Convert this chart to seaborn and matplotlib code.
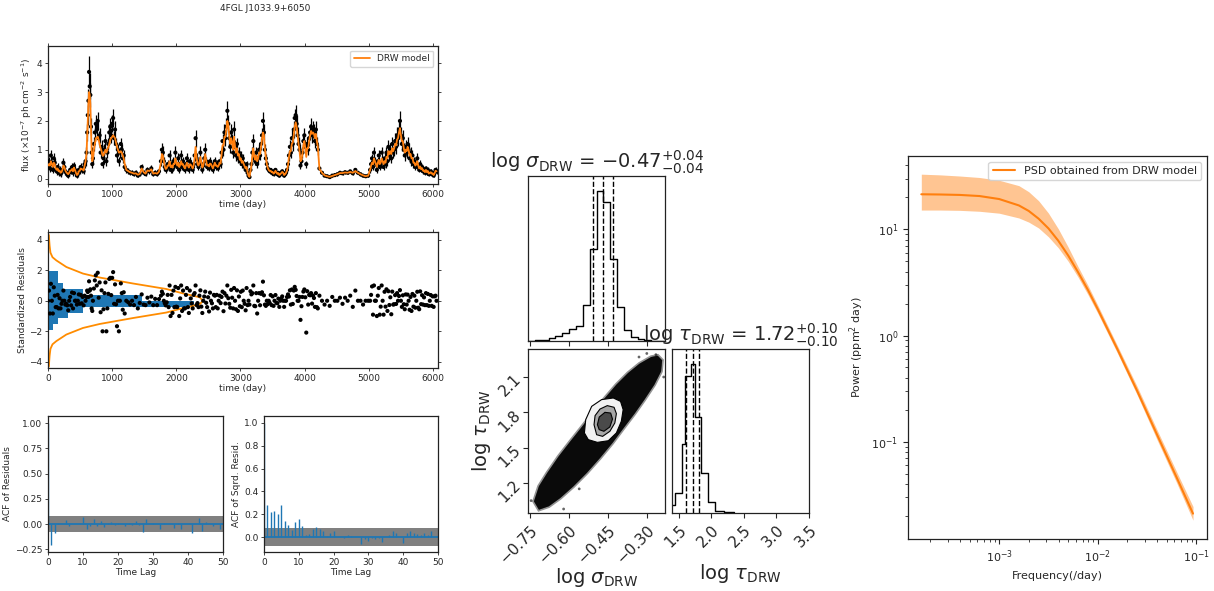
import numpy as np
import matplotlib
matplotlib.use("Agg")
import matplotlib.pyplot as plt
import seaborn as sns

sns.set_style("ticks")
plt.rcParams['font.family'] = ['DejaVu Sans']
plt.rcParams['mathtext.fontset'] = 'dejavusans'
plt.rcParams['axes.linewidth'] = 0.9
plt.rcParams['axes.edgecolor'] = '#222222'

# ---------------- light curve data ----------------
seg_sizes = [41, 10, 33, 18, 63, 30, 21, 19, 31, 20, 70]
lc_time = (list(range(0, 601, 15)) + list(range(610, 701, 10)) + list(range(715, 1196, 15))
           + list(range(1220, 1731, 30)) + list(range(1760, 2691, 15)) + list(range(2705, 3141, 15))
           + list(range(3155, 3456, 15)) + list(range(3470, 3741, 15)) + list(range(3755, 4206, 15))
           + list(range(4230, 4991, 40)) + list(range(5020, 6056, 15)))
lc_flux = [
    .45, .60, .35, .80, .50, .30, .70, .55, .30, .25, .40, .20, .30, .15, .20, .30, .55, .40, .25, .20,
    .15, .10, .20, .30, .25, .40, .20, .45, .30, .20, .10, .15, .30, .25, .40, .30, .35, .25, .50, .60, .90,
    1.6, 2.2, 2.7, 3.7, 3.2, 2.9, 1.8, 0.9, 0.5, 0.7,
    1.2, 1.6, 1.9, 1.7, 2.0, 1.4, 1.5, 0.9, 1.1, 0.5, 0.7, 1.0, 1.3, 0.6, 0.9, 1.2, 1.6, 1.8, 1.5, 1.9,
    2.1, 1.4, 1.7, 1.2, 0.8, 1.0, 0.6, 0.9, 1.2, 1.0, 0.7, 0.8, 0.4,
    .3, .25, .2, .2, .15, .2, .1, .15, .4, .2, .15, .3, .25, .35, .15, .2, .15, .25,
    .6, 1.0, .9, .6, .4, .3, .35, .5, .4, .8, .3, .5, .3, .6, .45, .9, .5, .4, .7, .3,
    .5, .8, .4, .6, .35, .3, .5, .7, .4, .3, .6, .5, .4, .3, .5, .8, 1.4, .7, .5, .4,
    .6, .9, .5, .3, .45, .7, 1.0, .6, .4, .5, .35, .6, .5, .4, .3, .5, .6, .4, .5, .35, .45, .6, .5,
    .9, 1.3, 1.0, 1.6, 1.4, 1.8, 2.35, 1.9, 1.4, 1.1, 1.6, 1.3, .9, 1.7, 1.1, .8, 1.2, .7, .9, .6,
    .8, .5, .7, .5, .4, .3, .5, .2, .1, .05,
    .3, .5, .9, 1.3, .7, .6, .9, .5, .7, 1.0, .8, 1.2, 1.5, 2.0, 1.6, 1.0, .7, .5, .35, .3, .25,
    .3, .2, .25, .15, .2, .3, .2, .15, .2, .1, .15, .2, .25, .2, .1, .15, .2, .3, .5,
    .8, 1.1, .9, 1.4, 1.2, 1.7, 2.1, 2.2, 1.9, 1.5, 1.2, 1.0, .45, .6, .9, 1.3, 1.5, 1.1, .5, 1.2,
    1.0, 1.4, 1.6, 1.8, 1.5, 1.7, 1.6, 1.3, 1.7, 1.2, 1.0,
    .35, .2, .1, .08, .05, .1, .12, .15, .2, .18, .22, .2, .25, .18, .3, .2, .15, .1, .08, .1,
    .3, .5, .7, .4, .9, .6, .5, .3, .6, .8, .4, .5, .9, .6, .4, .7, .5, .9, .6, 1.1,
    .8, 1.0, .7, 1.2, .9, 1.0, 1.3, 1.1, 1.5, 1.4, 1.7, 2.0, 1.5, 1.2, 1.4, 1.0, .8, 1.1, .9, 1.2,
    1.0, .7, .9, .6, .8, .5, .6, .4, .5, .7, .4, .3, .5, .3, .4, .25, .3, .2, .35, .2,
    .3, .15, .2, .25, .15, .2, .1, .2, .3, .25]
lc_err = [
    .15, .15, .12, .18, .15, .12, .17, .15, .12, .12, .13, .10, .12, .10, .10, .12, .15, .13, .12, .10,
    .10, .08, .10, .12, .10, .13, .10, .14, .12, .10, .08, .08, .12, .10, .13, .12, .12, .10, .15, .15, .20,
    .3, .35, .4, .55, .45, .4, .3, .2, .15, .18,
    .25, .3, .3, .3, .3, .25, .25, .2, .22, .15, .18, .2, .25, .15, .2, .22, .28, .3, .27, .3,
    .32, .25, .28, .22, .18, .2, .15, .18, .22, .2, .17, .18, .12,
    .1, .1, .08, .08, .07, .08, .06, .07, .12, .08, .07, .1, .09, .11, .07, .08, .07, .09,
    .15, .25, .22, .15, .12, .1, .1, .13, .12, .2, .1, .13, .1, .15, .12, .22, .13, .12, .18, .1,
    .13, .2, .12, .15, .1, .1, .13, .18, .12, .1, .15, .13, .12, .1, .13, .2, .3, .18, .13, .12,
    .15, .22, .13, .1, .12, .18, .25, .15, .12, .13, .1, .15, .13, .12, .1, .13, .15, .12, .13, .1,
    .12, .15, .13,
    .2, .25, .22, .3, .28, .3, .35, .3, .25, .22, .28, .25, .2, .3, .22, .18, .22, .15, .18, .14,
    .17, .12, .15, .12, .1, .08, .12, .07, .05, .04,
    .08, .12, .2, .25, .15, .14, .2, .12, .15, .2, .17, .22, .27, .32, .28, .2, .15, .12, .09, .08, .07,
    .08, .07, .07, .06, .07, .08, .07, .06, .07, .05, .06, .07, .07, .07, .05, .06, .07, .08, .12,
    .18, .22, .2, .27, .24, .3, .33, .35, .32, .28, .24, .2, .12, .14, .2, .25, .27, .22, .12, .24,
    .2, .26, .28, .3, .27, .3, .28, .25, .3, .24, .2,
    .06, .05, .04, .04, .03, .04, .04, .05, .05, .05, .05, .05, .06, .05, .06, .05, .05, .04, .04, .04,
    .1, .13, .16, .11, .2, .15, .13, .1, .15, .18, .11, .13, .2, .15, .11, .17, .13, .2, .15, .24,
    .18, .22, .17, .25, .2, .22, .27, .24, .3, .28, .32, .36, .3, .25, .28, .22, .18, .24, .2, .25,
    .22, .17, .2, .15, .18, .13, .15, .11, .13, .17, .11, .09, .13, .09, .11, .08, .09, .07, .1, .07,
    .09, .06, .07, .08, .06, .07, .05, .07, .09, .08]
drw_model = [
    .45, .50, .45, .60, .50, .40, .55, .50, .35, .30, .35, .25, .28, .20, .22, .30, .45, .40, .28, .22,
    .18, .15, .20, .27, .28, .33, .25, .38, .30, .20, .12, .15, .25, .27, .35, .32, .32, .28, .45, .60, .85,
    1.4, 2.0, 2.6, 3.0, 2.9, 2.6, 1.7, 1.0, 0.6, 0.7,
    1.0, 1.2, 1.4, 1.4, 1.45, 1.35, 1.2, 1.05, 0.95, 0.8, 0.8, 0.9, 1.0, 0.9, 1.0, 1.1, 1.2, 1.35, 1.4, 1.45,
    1.5, 1.45, 1.4, 1.25, 1.1, 1.0, 0.9, 0.9, 0.95, 0.9, 0.8, 0.7, 0.5,
    .3, .26, .22, .2, .17, .18, .13, .16, .35, .22, .17, .28, .26, .32, .17, .19, .17, .24,
    .55, .85, .8, .6, .42, .33, .36, .45, .45, .6, .4, .45, .38, .5, .5, .7, .55, .45, .55, .4,
    .48, .6, .48, .5, .4, .35, .45, .55, .45, .38, .5, .48, .42, .35, .45, .7, 1.1, .75, .52, .45,
    .55, .75, .55, .38, .45, .65, .85, .62, .45, .47, .42, .52, .5, .42, .35, .45, .55, .45, .45, .4,
    .45, .55, .52,
    .85, 1.15, 1.15, 1.45, 1.45, 1.7, 2.0, 1.85, 1.45, 1.2, 1.4, 1.25, 1.0, 1.45, 1.1, .9, 1.05, .8, .85, .65,
    .7, .55, .6, .5, .42, .35, .4, .22, .1, .06,
    .25, .45, .8, 1.05, .75, .65, .8, .6, .7, .9, .85, 1.1, 1.35, 1.6, 1.5, 1.05, .75, .5, .37, .3, .26,
    .27, .22, .23, .17, .2, .27, .21, .16, .19, .12, .15, .19, .23, .2, .12, .15, .2, .28, .45,
    .75, .95, .95, 1.2, 1.25, 1.5, 1.8, 1.95, 1.8, 1.5, 1.2, .95, .6, .65, .85, 1.15, 1.3, 1.05, .75, 1.05,
    1.05, 1.3, 1.5, 1.65, 1.55, 1.6, 1.55, 1.4, 1.55, 1.3, 1.1,
    .33, .2, .11, .08, .06, .09, .12, .15, .19, .19, .21, .2, .23, .2, .26, .2, .15, .11, .08, .1,
    .3, .45, .55, .5, .7, .6, .5, .4, .55, .65, .5, .55, .7, .6, .5, .6, .55, .75, .7, .95,
    .85, .95, .85, 1.05, .95, 1.05, 1.2, 1.15, 1.35, 1.4, 1.6, 1.75, 1.5, 1.3, 1.3, 1.05, .9, 1.0, .95, 1.1,
    1.0, .8, .85, .7, .72, .55, .55, .45, .5, .6, .45, .35, .42, .32, .36, .27, .28, .22, .3, .22,
    .26, .17, .2, .22, .17, .18, .12, .18, .27, .25]
drw_band_halfwidth = [.06, .15, .1, .07, .06, .08, .07, .05, .08, .06, .05]   # per segment

# ---------------- residual panel ----------------
resid_hist_edges = [-1.94, -1.55, -1.16, -0.77, -0.38, 0.01, 0.40, 0.79, 1.18, 1.57, 1.96]
resid_hist_widths = [80, 160, 310, 550, 2280, 1470, 550, 240, 160, 160]
gauss_curve_t = [14, 18, 25, 38, 70, 130, 286, 545, 805, 1325, 1844, 2104, 2364, 2415]
gauss_curve_y = [4.3, 4.0, 3.6, 3.15, 2.85, 2.64, 2.21, 1.78, 1.52, 1.13, 0.77, 0.48, 0.23, 0.0]

# ---------------- ACFs ----------------
acf_resid = [1.0, -0.21, -0.09, 0.01, 0.0, 0.04, -0.02, 0.0, 0.0, 0.01, 0.07, -0.05, -0.02, 0.05, -0.02,
             0.03, -0.03, 0.01, 0.02, -0.01, 0.01, 0.0, -0.02, 0.01, -0.01, 0.03, -0.01, -0.08, 0.05,
             0.0, 0.01, 0.0, -0.05, 0.01, 0.0, 0.0, -0.04, 0.01, -0.05, 0.0, 0.0, -0.09, 0.0, 0.06,
             -0.07, 0.02, 0.0, -0.02, 0.0, -0.05, 0.0]
acf_sqrd = [1.0, 0.28, 0.22, 0.23, 0.2, 0.28, 0.14, 0.11, 0.06, 0.13, 0.155, 0.10, 0.02, 0.03, 0.07,
            0.09, 0.07, 0.05, 0.01, 0.04, 0.05, 0.0, 0.0, -0.01, 0.02, 0.01, 0.0, 0.0, -0.06, -0.02,
            -0.03, -0.01, -0.02, -0.01, -0.04, 0.0, 0.02, 0.05, 0.04, 0.0, -0.05, 0.04, 0.05, 0.04,
            0.03, 0.02, 0.04, 0.02, 0.05, 0.0, 0.0]
acf_conf = 0.08

# ---------------- corner plot ----------------
sigma_edges = list(np.linspace(-0.757, -0.230, 21))
sigma_counts = [1, 2, 4, 8, 16, 24, 35, 45, 108, 278, 456, 421, 250, 103, 33, 13, 5, 2, 1, 0]
sigma_quant = [-0.508, -0.469, -0.431]
tau_edges = [1.395, 1.446, 1.549, 1.600, 1.692, 1.754, 1.846, 1.948, 2.05, 2.20, 2.35]
tau_counts = [25, 60, 208, 410, 448, 288, 120, 33, 6, 2]
tau_quant = [1.615, 1.713, 1.815]
blob_x = [-0.734, -0.715, -0.683, -0.639, -0.594, -0.550, -0.506, -0.461, -0.417, -0.372, -0.328,
          -0.283, -0.258, -0.241, -0.245, -0.271, -0.309, -0.347, -0.389, -0.432, -0.480, -0.531,
          -0.582, -0.633, -0.677, -0.715]
blob_y = [1.044, 1.172, 1.285, 1.426, 1.554, 1.676, 1.800, 1.922, 2.035, 2.134, 2.213,
          2.270, 2.281, 2.242, 2.148, 2.035, 1.908, 1.789, 1.667, 1.540, 1.412, 1.285,
          1.172, 1.072, 1.002, 0.973]
lev1_x = [-0.512, -0.474, -0.429, -0.401, -0.391, -0.398, -0.417, -0.448, -0.490, -0.525, -0.540, -0.535]
lev1_y = [1.851, 1.908, 1.922, 1.893, 1.823, 1.724, 1.625, 1.559, 1.545, 1.568, 1.625, 1.738]
lev2_x = [-0.503, -0.499, -0.480, -0.452, -0.426, -0.417, -0.423, -0.442, -0.470, -0.493]
lev2_y = [1.695, 1.772, 1.828, 1.857, 1.843, 1.789, 1.710, 1.639, 1.596, 1.610]
lev3_x = [-0.490, -0.483, -0.461, -0.439, -0.432, -0.442, -0.465, -0.483]
lev3_y = [1.695, 1.760, 1.800, 1.794, 1.743, 1.676, 1.639, 1.653]
outlier_x = [-0.620, -0.745, -0.705, -0.300, -0.265, -0.250, -0.690, -0.330, -0.235, -0.560]
outlier_y = [0.979, 1.050, 1.000, 2.300, 2.290, 2.200, 1.180, 2.270, 2.100, 1.150]

# ---------------- PSD ----------------
psd_logf = [-3.79, -3.6, -3.4, -3.2, -3.0, -2.8, -2.7, -2.6, -2.5, -2.4, -2.3, -2.2, -2.1, -2.0,
            -1.8, -1.6, -1.4, -1.2, -1.034]
psd_power = [21.4, 21.3, 21.1, 20.6, 19.3, 16.8, 14.9, 12.6, 10.2, 7.8, 5.67, 3.95, 2.69, 1.77,
             0.74, 0.30, 0.117, 0.046, 0.021]
psd_upper = [33.1, 32.6, 31.8, 30.8, 29.0, 25.8, 22.6, 18.6, 14.2, 10.1, 6.8, 4.45, 2.97, 1.93,
             0.80, 0.33, 0.130, 0.052, 0.0245]
psd_lower = [15.2, 15.2, 15.1, 14.8, 14.2, 12.8, 11.7, 10.3, 8.5, 6.7, 5.0, 3.55, 2.43, 1.62,
             0.68, 0.275, 0.105, 0.041, 0.0182]

assert len(lc_time) == len(lc_flux) == len(lc_err) == len(drw_model) == sum(seg_sizes)

t = np.array(lc_time, float)
f = np.array(lc_flux)
e = np.array(lc_err)
m = np.array(drw_model)
hw = np.repeat(drw_band_halfwidth, seg_sizes)
resid = (f - m) / e

ORANGE = '#ff7f0e'
BLUE = '#1f77b4'
W, H = 1214, 591
fig = plt.figure(figsize=(W / 100, H / 100), dpi=100)


def box(l, r, top, bot):
    return [l / W, 1 - bot / H, (r - l) / W, (bot - top) / H]


small = 6.5
fig.text(265 / W, 1 - 4 / H, '4FGL J1033.9+6050', ha='center', va='top', fontsize=6.5)

# ---- light curve ----
ax1 = fig.add_axes(box(48, 438, 46, 184))
ax1.fill_between(t, m - hw, m + hw, color=ORANGE, alpha=0.35, lw=0, zorder=1)
ax1.errorbar(t, f, yerr=e, fmt='none', ecolor='black', elinewidth=0.9, zorder=2)
sns.scatterplot(x=t, y=f, ax=ax1, color='black', s=9, edgecolor='none', zorder=3)
sns.lineplot(x=t, y=m, ax=ax1, color=ORANGE, lw=1.3, estimator=None, sort=False, zorder=4,
             label='DRW model')
ax1.set_xlim(0, 6078)
ax1.set_ylim(-0.19, 4.6)
ax1.set_yticks([0, 1, 2, 3, 4])
ax1.set_xlabel('time (day)', fontsize=small, labelpad=1)
ax1.set_ylabel(r'flux ($\times10^{-7}$ ph cm$^{-2}$ s$^{-1}$)', fontsize=small, labelpad=2)
ax1.tick_params(labelsize=small, top=True, right=True, length=2.5, width=0.6, pad=1.5)
ax1.legend(loc='upper right', fontsize=small, frameon=True, handlelength=1.8)

# ---- residuals ----
ax2 = fig.add_axes(box(48, 438, 232, 368))
centers = [(a + b) / 2 for a, b in zip(resid_hist_edges[:-1], resid_hist_edges[1:])]
sns.histplot(y=centers, weights=resid_hist_widths, bins=resid_hist_edges, ax=ax2,
             color=BLUE, alpha=1, linewidth=0, zorder=1)
sns.lineplot(x=gauss_curve_t, y=gauss_curve_y, ax=ax2, color='darkorange', lw=1.3,
             estimator=None, sort=False, zorder=2)
sns.lineplot(x=gauss_curve_t, y=[-v for v in gauss_curve_y], ax=ax2, color='darkorange', lw=1.3,
             estimator=None, sort=False, zorder=2)
sns.scatterplot(x=t, y=resid, ax=ax2, color='black', s=9, edgecolor='none', zorder=3)
ax2.set_xlim(0, 6078)
ax2.set_ylim(-4.4, 4.5)
ax2.set_yticks([-4, -2, 0, 2, 4])
ax2.set_xlabel('time (day)', fontsize=small, labelpad=1)
ax2.set_ylabel('Standardized Residuals', fontsize=small, labelpad=2)
ax2.tick_params(labelsize=small, top=True, right=True, length=2.5, width=0.6, pad=1.5)

# ---- ACFs ----
lags = np.arange(len(acf_resid))
for (l, r), acf, ylab, ylim, yt, ytl in [
        ((48, 223), acf_resid, 'ACF of Residuals', (-0.275, 1.07),
         [-0.25, 0, 0.25, 0.5, 0.75, 1.0], ['−0.25', '0.00', '0.25', '0.50', '0.75', '1.00']),
        ((264, 438), acf_sqrd, 'ACF of Sqrd. Resid.', (-0.13, 1.06),
         [0, 0.2, 0.4, 0.6, 0.8, 1.0], ['0.0', '0.2', '0.4', '0.6', '0.8', '1.0'])]:
    ax = fig.add_axes(box(l, r, 416, 552))
    ax.axhspan(-acf_conf, acf_conf, color='#808080', zorder=0, lw=0)
    ax.vlines(lags, 0, acf, color=BLUE, lw=1.0, zorder=2)
    ax.axhline(0, color=BLUE, lw=1.3, zorder=2)
    ax.set_xlim(0, 50)
    ax.set_ylim(*ylim)
    ax.set_yticks(yt)
    ax.set_yticklabels(ytl)
    ax.set_xticks([0, 10, 20, 30, 40, 50])
    ax.set_xlabel('Time Lag', fontsize=small, labelpad=1)
    ax.set_ylabel(ylab, fontsize=small, labelpad=2)
    ax.tick_params(labelsize=small, length=2.5, width=0.6, pad=1.5)

# ---- corner ----
big = 14
tk = 11
sig_ticks = [-0.75, -0.60, -0.45, -0.30]
tau2d_ticks = [1.2, 1.5, 1.8, 2.1]
tau_ticks = [1.5, 2.0, 2.5, 3.0, 3.5]

axh1 = fig.add_axes(box(528, 665, 176, 341))
sc = [(a + b) / 2 for a, b in zip(sigma_edges[:-1], sigma_edges[1:])]
sns.histplot(x=sc, weights=sigma_counts, bins=sigma_edges, element='step', fill=False,
             color='black', linewidth=1.0, ax=axh1)
for q in sigma_quant:
    axh1.axvline(q, color='black', ls='--', lw=1.0)
axh1.set_xlim(-0.757, -0.230)
axh1.set_ylim(0, 500)
axh1.set_xticks(sig_ticks)
axh1.set_xticklabels([])
axh1.set_yticks([])
axh1.set_xlabel('')
axh1.set_ylabel('')
axh1.set_title(r'log $\sigma_{\rm DRW}$ = $-0.47^{+0.04}_{-0.04}$', fontsize=big, pad=4)

ax2d = fig.add_axes(box(528, 665, 349, 513))
ax2d.fill(blob_x, blob_y, color='#0a0a0a', ec='#3a3a3a', lw=2.5, alpha=0.55, zorder=1)
ax2d.fill(blob_x, blob_y, color='#0a0a0a', lw=0, zorder=2)
sns.scatterplot(x=outlier_x, y=outlier_y, ax=ax2d, color='black', s=4, edgecolor='none', alpha=0.6)
ax2d.fill(lev1_x, lev1_y, facecolor='#f2f2f2', edgecolor='black', lw=0.8, zorder=3)
ax2d.fill(lev2_x, lev2_y, facecolor='#a6a6a6', edgecolor='black', lw=0.8, zorder=4)
ax2d.fill(lev3_x, lev3_y, facecolor='#4a4a4a', edgecolor='black', lw=0.8, zorder=5)
ax2d.set_xlim(-0.757, -0.230)
ax2d.set_ylim(0.945, 2.338)
ax2d.set_xticks(sig_ticks)
ax2d.set_xticklabels(['−0.75', '−0.60', '−0.45', '−0.30'], rotation=45, ha='right',
                     rotation_mode='anchor')
ax2d.set_yticks(tau2d_ticks)
ax2d.set_yticklabels(['1.2', '1.5', '1.8', '2.1'], rotation=45, ha='right', va='center',
                     rotation_mode='anchor')
ax2d.tick_params(labelsize=tk)
ax2d.set_xlabel(r'log $\sigma_{\rm DRW}$', fontsize=big, labelpad=0)
ax2d.set_ylabel(r'log $\tau_{\rm DRW}$', fontsize=big, labelpad=2)

axh2 = fig.add_axes(box(672, 809, 349, 513))
tc = [(a + b) / 2 for a, b in zip(tau_edges[:-1], tau_edges[1:])]
sns.histplot(x=tc, weights=tau_counts, bins=tau_edges, element='step', fill=False,
             color='black', linewidth=1.0, ax=axh2)
for q in tau_quant:
    axh2.axvline(q, color='black', ls='--', lw=1.0)
axh2.set_xlim(1.395, 3.5)
axh2.set_ylim(0, 492)
axh2.set_xticks(tau_ticks)
axh2.set_xticklabels(['1.5', '2.0', '2.5', '3.0', '3.5'], rotation=45, ha='right',
                     rotation_mode='anchor')
axh2.tick_params(labelsize=tk)
axh2.set_yticks([])
axh2.set_ylabel('')
axh2.set_xlabel(r'log $\tau_{\rm DRW}$', fontsize=big, labelpad=8)
axh2.set_title(r'log $\tau_{\rm DRW}$ = $1.72^{+0.10}_{-0.10}$', fontsize=big, pad=4)

# ---- PSD ----
axp = fig.add_axes(box(908, 1207, 156, 539))
freq = [10 ** v for v in psd_logf]
axp.fill_between(freq, psd_lower, psd_upper, color=ORANGE, alpha=0.45, lw=0)
sns.lineplot(x=freq, y=psd_power, ax=axp, color=ORANGE, lw=1.5, estimator=None,
             label='PSD obtained from DRW model')
axp.set_xscale('log')
axp.set_yscale('log')
axp.set_xlim(10 ** -3.925, 10 ** -0.892)
axp.set_ylim(10 ** -1.917, 10 ** 1.691)
axp.set_xlabel('Frequency(/day)', fontsize=8)
axp.set_ylabel(r'Power (ppm$^2$ day)', fontsize=8)
axp.tick_params(which='major', labelsize=8, length=3.5)
axp.tick_params(which='minor', length=2)
axp.legend(loc='upper right', fontsize=8, handlelength=2)

fig.savefig('out.png', dpi=100)
